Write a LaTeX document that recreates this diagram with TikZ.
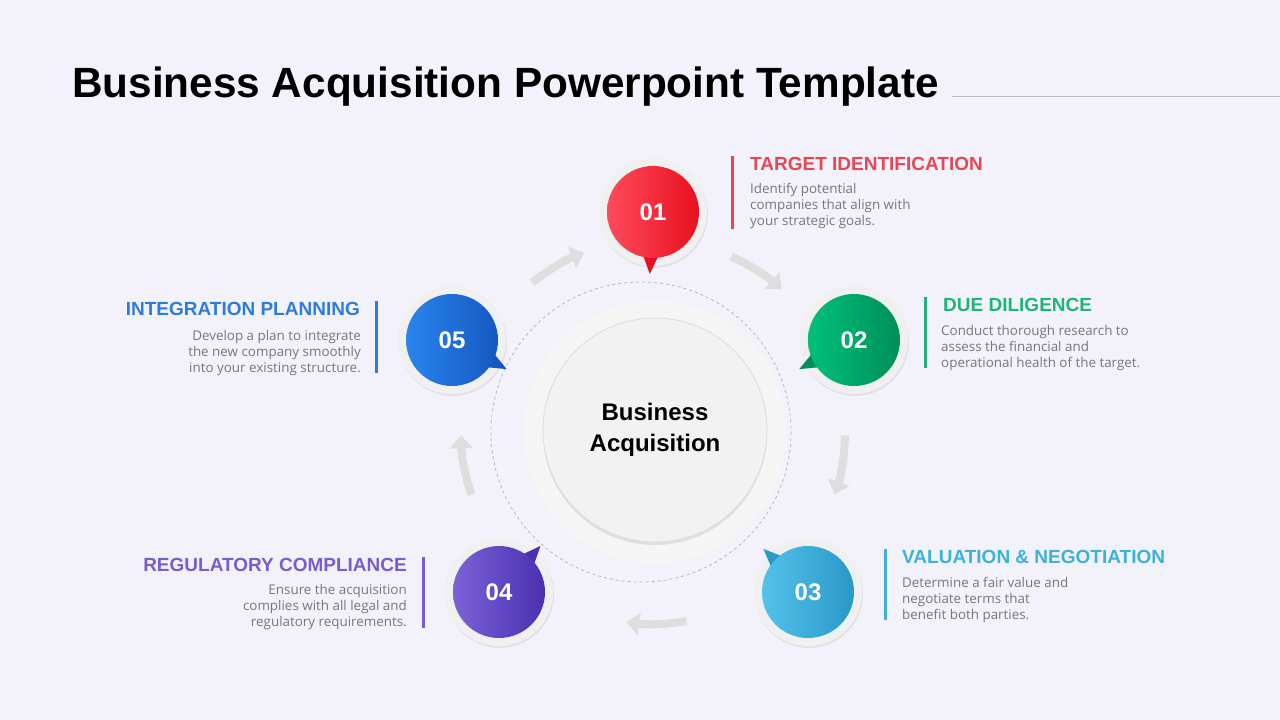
\documentclass[tikz,border=0pt]{standalone}
\usepackage{fontspec}
\setmainfont{Liberation Sans}
\newfontfamily\bodyf{Open Sans}
\usetikzlibrary{arrows.meta,calc,shadows}
\definecolor{bg}{HTML}{F3F2FA}
\definecolor{cR1}{HTML}{FF4B5C}\definecolor{cR2}{HTML}{E8101E}
\definecolor{cG1}{HTML}{00C07A}\definecolor{cG2}{HTML}{008F5A}
\definecolor{cC1}{HTML}{52C2EA}\definecolor{cC2}{HTML}{2A98C8}
\definecolor{cP1}{HTML}{7B62D8}\definecolor{cP2}{HTML}{4A30B0}
\definecolor{cB1}{HTML}{2A85EE}\definecolor{cB2}{HTML}{1558C0}
\definecolor{hR}{HTML}{E84652}\definecolor{hG}{HTML}{1DB57A}
\definecolor{hC}{HTML}{3BB2DC}\definecolor{hP}{HTML}{7A5CD0}\definecolor{hB}{HTML}{2D7BE0}
\definecolor{txt}{HTML}{777777}
\tikzset{
 ring/.style={circle,fill=gray!12,minimum size=108pt,drop shadow={opacity=0.15,shadow xshift=1pt,shadow yshift=-2pt}},
 num/.style={circle,minimum size=92pt,text=white,font=\bfseries\fontsize{24}{24}\selectfont},
 head/.style={font=\bfseries\fontsize{19}{19}\selectfont,inner sep=0pt},
 body/.style={font=\bodyf\fontsize{13.4}{16}\selectfont,text=txt,inner sep=0pt},
 garrow/.style={line width=8pt,draw=gray!26,-{Triangle[length=13pt,width=22pt]}},
}
\begin{document}
\begin{tikzpicture}[x=1pt,y=-1pt]
\fill[bg] (0,0) rectangle (1280,720);
\useasboundingbox (0,0) rectangle (1280,720);
\node[anchor=west,inner sep=0pt,font=\bfseries\fontsize{42.3}{42}\selectfont] (title) at (72,87) {Business Acquisition Powerpoint Template};
\coordinate (l1) at (952,96); \coordinate (l2) at (1280,96);
\draw[gray!55,line width=0.8pt] (l1) -- (l2);
\coordinate (c) at (641,432);
\node[circle,fill=gray!8,minimum size=262pt] (pale) at (655,432) {};
\draw[gray!60,dashed,line width=0.7pt] (c) circle[radius=150];
\node[circle,fill=gray!10,minimum size=224pt,draw=gray!25,line width=1pt,drop shadow={opacity=0.18,shadow xshift=0pt,shadow yshift=-3pt},align=center,font=\bfseries\fontsize{24}{31}\selectfont] (core) at (655,430) {Business\\Acquisition};
\coordinate (ac) at (653,432);
\foreach \t in {-57,10,89,170,-120}{
 \draw[garrow] ([shift={(\t-9:192)}]ac) arc[start angle=\t-9,end angle=\t+9,radius=192];}
% steps
\foreach \n/\x/\y/\a/\ca/\cb in {01/653/212/93/cR1/cR2, 02/854/340/152/cG1/cG2, 03/808/592/224/cC1/cC2, 04/499/592/-48/cP1/cP2, 05/452/340/28/cB1/cB2}{
 \node[ring] (r\n) at (\x,\y) {};
 \begin{scope}[shift={(\x,\y)},rotate=-\a]
  \fill[\cb] (38,-10) -- (62,0) -- (38,10) -- cycle;
 \end{scope}
 \node[num,left color=\ca,right color=\cb] (s\n) at (\x,\y) {\n};
}
% texts
\fill[hR] (731,156) rectangle (734,229);
\node[head,text=hR,anchor=west] (h1) at (750,164) {TARGET IDENTIFICATION};
\node[body,anchor=north west,align=left] (b1) at (750,183) {Identify potential\\companies that align with\\your strategic goals.};
\fill[hG] (924,297) rectangle (927,368);
\node[head,text=hG,anchor=west] (h2) at (943,305) {DUE DILIGENCE};
\node[body,anchor=north west,align=left] (b2) at (941,325) {Conduct thorough research to\\assess the financial and\\operational health of the target.};
\fill[hC] (884,549) rectangle (887,620);
\node[head,text=hC,anchor=west] (h3) at (902,557) {VALUATION \& NEGOTIATION};
\node[body,anchor=north west,align=left] (b3) at (902,577) {Determine a fair value and\\negotiate terms that\\benefit both parties.};
\fill[hP] (422,557) rectangle (425,628);
\node[head,text=hP,anchor=east] (h4) at (407,565) {REGULATORY COMPLIANCE};
\node[body,anchor=north east,align=right] (b4) at (407,584) {Ensure the acquisition\\complies with all legal and\\regulatory requirements.};
\fill[hB] (375,301) rectangle (378,373);
\node[head,text=hB,anchor=east] (h5) at (360,309) {INTEGRATION PLANNING};
\node[body,anchor=north east,align=right] (b5) at (361,330) {Develop a plan to integrate\\the new company smoothly\\into your existing structure.};
\end{tikzpicture}
\end{document}
